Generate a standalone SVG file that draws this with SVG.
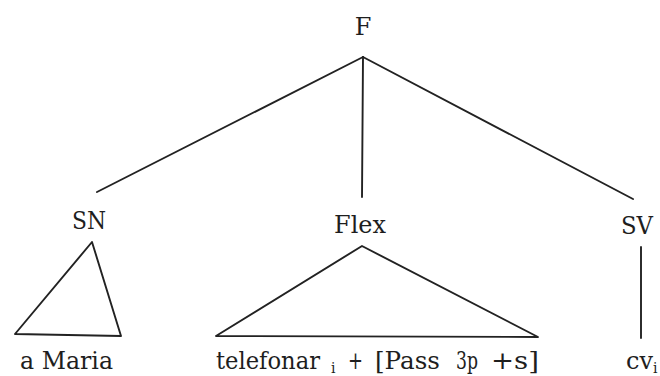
<svg xmlns="http://www.w3.org/2000/svg" width="660" height="376" viewBox="0 0 660 376">
<style>
  text { font-family: "DejaVu Serif", "Liberation Serif", serif; font-size: 24px; fill: #1e1e1e; }
  .sub { font-size: 14px; }
  .edge { stroke: #222; stroke-width: 1.9; fill: none; stroke-linecap: round; stroke-linejoin: round; }
</style>
<rect width="660" height="376" fill="#ffffff"/>
<g id="connectors">
  <line class="edge" x1="363" y1="57" x2="97" y2="192"/>
  <line class="edge" x1="363" y1="57" x2="362" y2="197"/>
  <line class="edge" x1="363" y1="57" x2="633" y2="199"/>
  <polygon class="edge" points="92,242 15,334 121,336"/>
  <polygon class="edge" points="362,246 216,336 538,337"/>
  <line class="edge" x1="641" y1="247" x2="641" y2="338"/>
</g>
<g id="node-F"><text x="363" y="35" text-anchor="middle">F</text></g>
<g id="node-SN"><text x="72" y="229" textLength="34" lengthAdjust="spacingAndGlyphs">SN</text></g>
<g id="node-Flex"><text x="334" y="233" textLength="52" lengthAdjust="spacingAndGlyphs">Flex</text></g>
<g id="node-SV"><text x="621" y="234" textLength="32" lengthAdjust="spacingAndGlyphs">SV</text></g>
<g id="node-aMaria"><text x="20" y="369" textLength="93" lengthAdjust="spacingAndGlyphs">a Maria</text></g>
<g id="node-telefonar">
  <text x="216" y="369" textLength="104" lengthAdjust="spacingAndGlyphs">telefonar</text>
  <text class="sub" x="331" y="373">i</text>
  <text x="348" y="369" textLength="15" lengthAdjust="spacingAndGlyphs">+</text>
  <text x="375" y="369" textLength="65" lengthAdjust="spacingAndGlyphs">[Pass</text>
  <text x="456" y="369" textLength="22" lengthAdjust="spacingAndGlyphs">3p</text>
  <text x="491" y="369" textLength="48" lengthAdjust="spacingAndGlyphs">+s]</text>
</g>
<g id="node-cv">
  <text x="626" y="369">cv<tspan class="sub" dy="4">i</tspan></text>
</g>
</svg>
